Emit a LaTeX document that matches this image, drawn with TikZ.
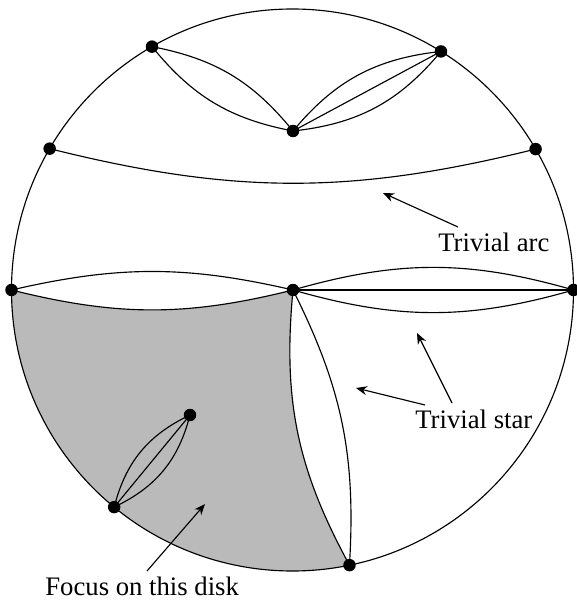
\documentclass[tikz,border=0pt]{standalone}
\usepackage{fontspec}
\setmainfont{Liberation Serif}
\usepackage{tikz}
\usetikzlibrary{arrows.meta,positioning,calc}
\tikzset{
  dot/.style={circle, fill=black, inner sep=0pt, minimum size=0.25cm},
  edge/.style={line width=0.65pt},
  pointer/.style={-{Stealth[length=2.2mm,width=1.8mm]}, line width=0.65pt},
  label/.style={font=\fontsize{15.2}{18}\selectfont, inner sep=0pt},
}

\begin{document}
\begin{tikzpicture}[x=0.02cm,y=0.02cm]
  \useasboundingbox (0,0) rectangle (576,603);
  \coordinate (c) at (292.5,313);
  % Points on the boundary circle
  \begin{scope}[shift={(292.5,313)}]
    \coordinate (tl) at (120:281);
    \coordinate (tr) at (58.1:281);
    \coordinate (al) at (149.8:281);
    \coordinate (ar) at (30.1:281);
    \coordinate (ml) at (180:281);
    \coordinate (mr) at (0:281);
    \coordinate (bb) at (-78.3:281);
    \coordinate (sa) at (230.6:281);
  \end{scope}
  \coordinate (tm) at (293,472);
  \coordinate (mc) at (293,313);
  \coordinate (sb) at (190,188);
  % Shaded disk
  \fill[black!27] (ml) to[bend right=14] (mc) to[bend right=17] (bb)
    arc[start angle=-78.3, end angle=-180, radius=281];
  % Boundary
  \draw[edge] (c) circle[radius=281];
  % Arcs
  \draw[edge] (al) to[bend right=14] (ar);
  \draw[edge] (tl) to[bend left=20] (tm);
  \draw[edge] (tl) to[bend right=20] (tm);
  \draw[edge] (tm) to[bend left=22] (tr);
  \draw[edge] (tm) to[bend right=22] (tr);
  \draw[edge] (tm) -- (tr);
  \draw[edge] (ml) to[bend left=13] (mc);
  \draw[edge] (ml) to[bend right=14] (mc);
  \draw[edge] (mc) to[bend left=16] (mr);
  \draw[edge] (mc) to[bend right=16] (mr);
  \draw[edge] (mc) -- (mr);
  \draw[edge] (mc) to[bend right=17] (bb);
  \draw[edge] (mc) to[bend left=15] (bb);
  \draw[edge] (sa) to[bend left=25] (sb);
  \draw[edge] (sa) to[bend right=25] (sb);
  \draw[edge] (sa) -- (sb);
  % Vertices
  \foreach \p in {tl,tr,tm,al,ar,ml,mc,mr,bb,sa,sb}{
    \node[dot] (\p-d) at (\p) {};
  }
  % Labels
  \node[label, anchor=base west] (arclbl) at (438,351) {Trivial arc};
  \node[label, anchor=base west] (starlbl) at (415,174) {Trivial star};
  \node[label, anchor=base west] (focuslbl) at (45,8) {Focus on this disk};
  % Pointers
  \coordinate (arcfrom) at (458,376);
  \coordinate (arcto) at (383,410);
  \coordinate (starfromA) at (425,198);
  \coordinate (startoA) at (356,215);
  \coordinate (starfromB) at (452,200);
  \coordinate (startoB) at (417,270);
  \coordinate (focusfrom) at (147,32);
  \coordinate (focusto) at (205,99);
  \draw[pointer] (arcfrom) -- (arcto);
  \draw[pointer] (starfromA) -- (startoA);
  \draw[pointer] (starfromB) -- (startoB);
  \draw[pointer] (focusfrom) -- (focusto);
\end{tikzpicture}
\end{document}
